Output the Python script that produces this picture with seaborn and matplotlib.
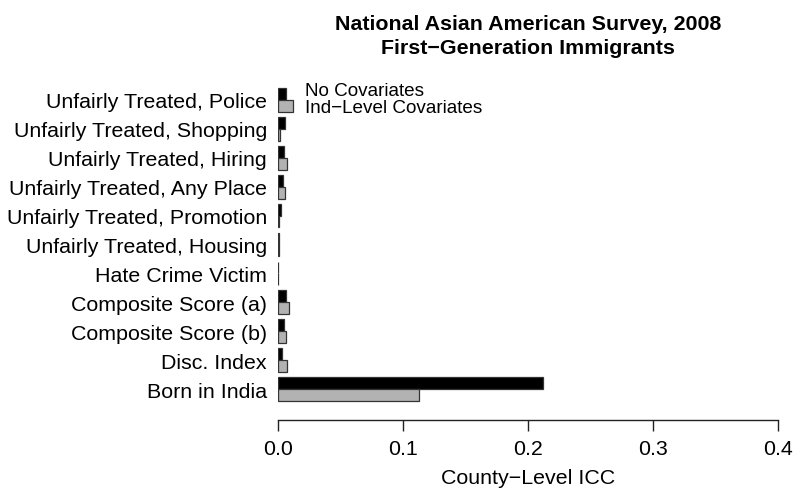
import matplotlib
matplotlib.use("Agg")
import matplotlib.pyplot as plt
import seaborn as sns
import pandas as pd

categories = [
    "Unfairly Treated, Police",
    "Unfairly Treated, Shopping",
    "Unfairly Treated, Hiring",
    "Unfairly Treated, Any Place",
    "Unfairly Treated, Promotion",
    "Unfairly Treated, Housing",
    "Hate Crime Victim",
    "Composite Score (a)",
    "Composite Score (b)",
    "Disc. Index",
    "Born in India",
]
no_covariates = [0.0065, 0.0055, 0.0045, 0.0042, 0.0028, 0.0006, 0.0004, 0.0062, 0.0052, 0.0035, 0.2124]
ind_covariates = [0.0120, 0.0020, 0.0070, 0.0058, 0.0012, 0.0005, 0.0003, 0.0085, 0.0065, 0.0070, 0.1131]
series_names = ["No Covariates", "Ind\u2212Level Covariates"]
xticks = [0.0, 0.1, 0.2, 0.3, 0.4]

df = pd.DataFrame({
    "label": categories * 2,
    "icc": no_covariates + ind_covariates,
    "model": [series_names[0]] * len(categories) + [series_names[1]] * len(categories),
})

sns.set_theme(style="white")
plt.rcParams["font.family"] = ["Liberation Sans", "DejaVu Sans"]
plt.rcParams["text.color"] = "black"
plt.rcParams["xtick.color"] = "black"
plt.rcParams["ytick.color"] = "black"
plt.rcParams["axes.labelcolor"] = "black"
plt.rcParams["xtick.bottom"] = True

FS = 15.4

fig = plt.figure(figsize=(8.07, 4.89), dpi=100)
ax = fig.add_axes([278 / 807, 1 - 406 / 489, (777.7 - 278) / 807, (406 - 85) / 489])

sns.barplot(
    data=df, y="label", x="icc", hue="model", orient="h",
    palette=["#000000", "#b2b2b2"], order=categories, hue_order=series_names,
    edgecolor="#333333", linewidth=0.9, width=0.82, legend=False, ax=ax,
)

ax.set_xlim(0, 0.4)
ax.set_ylim(10.55, -0.55)
ax.set_xticks(xticks)
ax.set_xticklabels([f"{t:.1f}" for t in xticks])
ax.tick_params(axis="x", which="major", bottom=True, direction="out", length=8,
               width=1.0, color="#222222", pad=6, labelsize=FS, labelcolor="black")
ax.tick_params(axis="y", length=0, pad=8, labelsize=FS, labelcolor="black")
ax.set_ylabel("")
ax.set_xlabel("County\u2212Level ICC", fontsize=FS, labelpad=7, color="black")

for side in ["top", "right", "left"]:
    ax.spines[side].set_visible(False)
ax.spines["bottom"].set_position(("outward", 10.5))
ax.spines["bottom"].set_color("#222222")
ax.spines["bottom"].set_linewidth(1.0)

fig.text(305 / 807, 1 - 92 / 489, series_names[0], fontsize=13.6, va="center", ha="left")
fig.text(305 / 807, 1 - 108.5 / 489, series_names[1], fontsize=13.6, va="center", ha="left")

fig.text(528 / 807, 1 - 25 / 489, "National Asian American Survey, 2008",
         fontsize=FS, fontweight="bold", ha="center", va="center")
fig.text(528 / 807, 1 - 49 / 489, "First\u2212Generation Immigrants",
         fontsize=FS, fontweight="bold", ha="center", va="center")

fig.savefig("out.png", dpi=100)
